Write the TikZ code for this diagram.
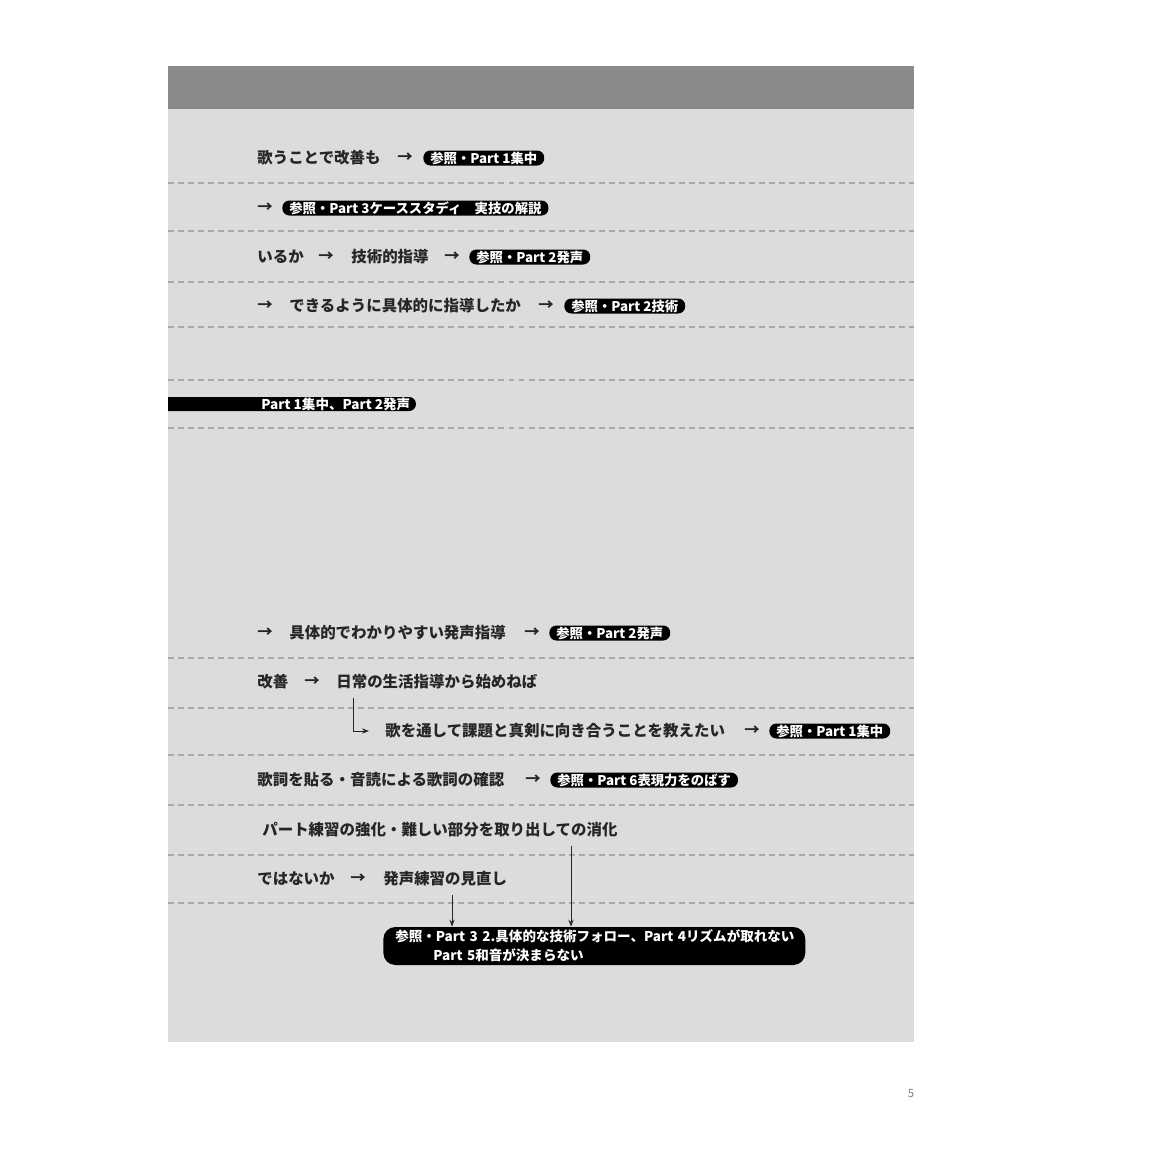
\documentclass[tikz,border=0pt]{standalone}
\usepackage{fontspec}
\setmainfont{Noto Sans CJK JP}
\usetikzlibrary{arrows.meta, calc}

\definecolor{panelgray}{HTML}{DCDCDC}
\definecolor{headgray}{HTML}{8A8A8A}
\definecolor{rulegray}{HTML}{A8A8A8}
\definecolor{inkgray}{HTML}{262626}

\tikzset{
  txt/.style={anchor=west, inner sep=0pt, text=inkgray, font=\fontsize{8.8}{10}\selectfont\bfseries},
  go/.style={inner sep=0pt, text=inkgray, font=\fontsize{8.8}{10}\selectfont\bfseries},
  pill/.style={anchor=west, fill=black, text=white, rounded corners=0.14cm, inner xsep=0.14cm, inner ysep=0pt, minimum height=0.3cm, font=\fontsize{7.6}{8}\selectfont\bfseries},
  rule/.style={rulegray, line width=0.6pt, dash pattern=on 3.4pt off 2.3pt},
  tip/.style={-{Stealth[length=4pt,width=3pt]}, inkgray, line width=0.5pt}
}

\begin{document}
\begin{tikzpicture}[x=0.02cm, y=-0.02cm]
\useasboundingbox (0,0) rectangle (1150,1150);
\fill[panelgray] (168,66) rectangle (914,1042); % panel
\fill[headgray] (168,66) rectangle (914,109); % header
\foreach \y in {183,231,282,327,380,428,658,708,755,805,855,903}
    \draw[rule] (168,\y) -- (914,\y);

% upper rows
\node[txt] (sing) at (257,158) {歌うことで改善も};
\node[go] (a1) at (405,158) {→};
\node[pill] (p1) at (423,158) {参照・Part 1集中};
\node[go] (a2) at (265,208) {→};
\node[pill] (p2) at (282,208) {参照・Part 3ケーススタディ　実技の解説};
\node[txt] (ask) at (257,257) {いるか};
\node[go] (a3) at (326,257) {→};
\node[txt] (tech) at (351,257) {技術的指導};
\node[go] (a4) at (452,257) {→};
\node[pill] (p3) at (469,257) {参照・Part 2発声};
\node[go] (a5) at (265,306) {→};
\node[txt] (able) at (289,306) {できるように具体的に指導したか};
\node[go] (a6) at (546,306) {→};
\node[pill] (p4) at (564,306) {参照・Part 2技術};

% black bar
\fill[black] (168,397) [rounded corners=0.14cm] -- (416,397) -- (416,411) [sharp corners] -- (168,411) -- cycle;
\node[anchor=west, inner sep=0pt, text=white, font=\fontsize{7.7}{8}\selectfont\bfseries] (focus) at (261,404) {Part 1集中、Part 2発声};

% lower rows
\node[go] (a7) at (265,633) {→};
\node[txt] (clear) at (289,633) {具体的でわかりやすい発声指導};
\node[go] (a8) at (532,633) {→};
\node[pill] (p5) at (549,633) {参照・Part 2発声};
\node[txt] (fix) at (257,682) {改善};
\node[go] (a9) at (312,682) {→};
\node[txt] (daily) at (336,682) {日常の生活指導から始めねば};
\node[txt] (teach) at (385,731) {歌を通して課題と真剣に向き合うことを教えたい};
\node[go] (a10) at (752,731) {→};
\node[pill] (p6) at (769,731) {参照・Part 1集中};
\node[txt] (lyric) at (257,780) {歌詞を貼る・音読による歌詞の確認};
\node[go] (a11) at (533,780) {→};
\node[pill] (p7) at (550,780) {参照・Part 6表現力をのばす};
\node[txt] (drill) at (262,830) {パート練習の強化・難しい部分を取り出しての消化};
\node[txt] (doubt) at (257,879) {ではないか};
\node[go] (a12) at (358,879) {→};
\node[txt] (review) at (383,879) {発声練習の見直し};
\node[pill, rounded corners=0.24cm, inner xsep=0.24cm, text width=7.96cm, minimum height=0.76cm, align=left,
      font=\fontsize{7.7}{10.8}\selectfont\bfseries] (refs) at (383,946)
    {\mbox{参照・Part 3 2.具体的な技術フォロー、Part 4リズムが取れない}\\\hspace*{0.76cm}Part 5和音が決まらない};

% connectors
\coordinate (b1) at ($(daily.south west)+(17,8)$);
\draw[tip] (b1) |- ($(teach.west)+(-16,0)$);
\coordinate (r1) at ($(review.south west)+(69,8)$);
\draw[tip] (r1) -- (r1 |- refs.north);
\coordinate (r2) at ($(drill.south west)+(309,8)$);
\draw[tip] (r2) -- (r2 |- refs.north);

\node[text=gray, font=\fontsize{6.5}{7}\selectfont] (folio) at (911,1093) {5};
\end{tikzpicture}
\end{document}
